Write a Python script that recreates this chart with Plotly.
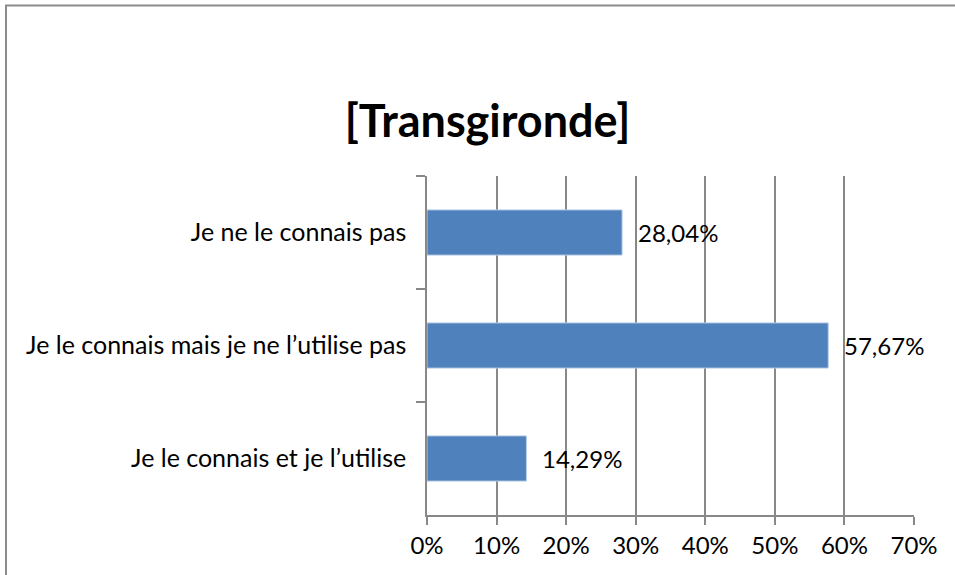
import plotly.graph_objects as go

categories = ["Je ne le connais pas",
              "Je le connais mais je ne l’utilise pas",
              "Je le connais et je l’utilise"]
values = [0.2804, 0.5767, 0.1429]
labels = ["28,04%", "57,67%", "14,29%"]
title = "[Transgironde]"

FONT = "Lato, Open Sans, sans-serif"
GRID = "#888888"

fig = go.Figure()
fig.add_trace(go.Bar(
    x=values, y=categories, orientation="h",
    marker=dict(color="#4F81BD", line=dict(color="#B9CDE5", width=1)),
    hoverinfo="skip",
))
for v, c, t in zip(values, categories, labels):
    fig.add_annotation(x=v, y=c, text=t, showarrow=False, xanchor="left",
                       xshift=14, font=dict(family=FONT, size=24, color="#000"))

fig.update_layout(
    width=955, height=575,
    margin=dict(l=427, r=41, t=176, b=60),
    paper_bgcolor="white", plot_bgcolor="white",
    showlegend=False,
    bargap=0.6,
    title=dict(text="<b>" + title + "</b>", x=0.5105, xanchor="center",
               xref="container", yref="container",
               y=1 - 121 / 575, yanchor="middle",
               font=dict(family=FONT, size=45, color="#000")),
    font=dict(family=FONT, size=24, color="#000"),
    xaxis=dict(range=[0, 0.7], dtick=0.1, tickformat=".0%",
               showgrid=True, gridcolor=GRID, gridwidth=1.5,
               showline=True, linecolor=GRID, linewidth=1.5,
               ticks="outside", ticklen=8, tickcolor=GRID, tickwidth=1.5,
               zeroline=False, fixedrange=True),
    yaxis=dict(autorange="reversed", showgrid=False,
               showline=True, linecolor=GRID, linewidth=1.5,
               ticks="outside", ticklen=9, tickcolor=GRID, tickwidth=1.5,
               tickson="boundaries", ticklabelstandoff=14,
               tickfont=dict(size=25),
               zeroline=False, fixedrange=True),
    shapes=[dict(type="rect", xref="paper", yref="paper",
                 x0=(6 - 427) / 487, x1=2, y0=-1, y1=1 + (176 - 5.5) / 339,
                 line=dict(color="#8C8C8C", width=2), layer="below")],
)

fig.write_html("out.html", config={"displayModeBar": False},
               post_script="document.body.style.margin='0';document.body.style.overflow='hidden';")
